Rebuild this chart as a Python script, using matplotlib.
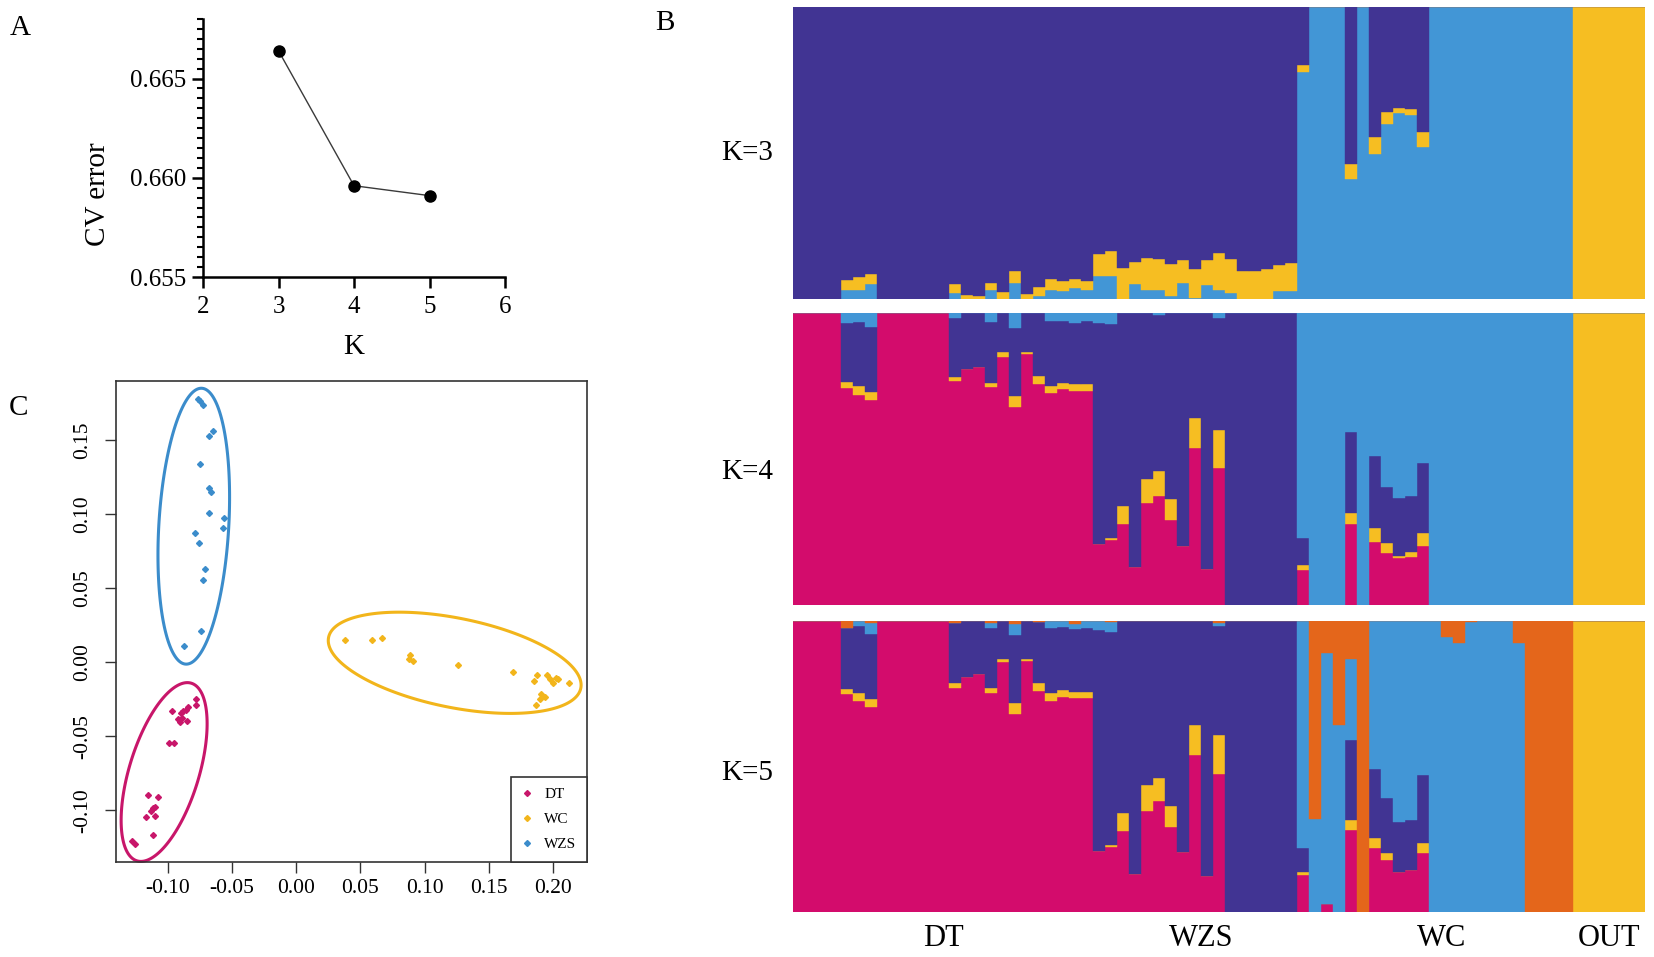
import numpy as np
import matplotlib
matplotlib.use("Agg")
import matplotlib.pyplot as plt
from matplotlib.ticker import MultipleLocator
from matplotlib.lines import Line2D

plt.rcParams['font.family'] = ['Liberation Serif', 'DejaVu Serif']

# ---------------- data ----------------
# A: cross-validation error
k_values = [3, 4, 5]
cv_error = [0.6664, 0.6596, 0.6591]

# C: PCA coordinates
dt_pc1 = [-0.0784, -0.0778, -0.0844, -0.0859, -0.0880, -0.0898, -0.0889, -0.0853,
          -0.0919, -0.0910, -0.0970, -0.0994, -0.0955, -0.1153, -0.1081, -0.1114,
          -0.1100, -0.1129, -0.1100, -0.1174, -0.1114, -0.1278, -0.1257]
dt_pc2 = [-0.0252, -0.0286, -0.0306, -0.0325, -0.0332, -0.0345, -0.0377, -0.0395,
          -0.0384, -0.0403, -0.0332, -0.0545, -0.0545, -0.0896, -0.0909, -0.0987,
          -0.0979, -0.1008, -0.1039, -0.1047, -0.1169, -0.1208, -0.1229]
wc_pc1 = [0.0383, 0.0587, 0.0665, 0.0886, 0.0880, 0.0907, 0.1260, 0.1686, 0.1850, 0.1874,
          0.1865, 0.1895, 0.1910, 0.1934, 0.1955, 0.1976, 0.2000, 0.2024, 0.2036, 0.2126]
wc_pc2 = [0.0148, 0.0148, 0.0166, 0.0052, 0.0021, 0.0008, -0.0021, -0.0068, -0.0130, -0.0086,
          -0.0286, -0.0247, -0.0216, -0.0234, -0.0086, -0.0112, -0.0143, -0.0104, -0.0112, -0.0143]
wzs_pc1 = [-0.0766, -0.0754, -0.0730, -0.0647, -0.0680, -0.0754, -0.0680, -0.0665, -0.0680,
           -0.0560, -0.0575, -0.0790, -0.0760, -0.0710, -0.0725, -0.0746, -0.0874]
wzs_pc2 = [0.1780, 0.1766, 0.1735, 0.1560, 0.1530, 0.1340, 0.1177, 0.1150, 0.1008,
           0.0974, 0.0910, 0.0870, 0.0805, 0.0629, 0.0553, 0.0208, 0.0109]

# ellipse outlines (DT, WC, WZS): centre, half extents, correlation
ell_cx = [-0.1030, 0.1234, -0.0799]
ell_cy = [-0.0742, -0.0004, 0.0919]
ell_rx = [0.0335, 0.0985, 0.0279]
ell_ry = [0.0604, 0.0342, 0.0932]
ell_rho = [0.54, -0.44, 0.21]

# B: admixture proportions, 71 individuals
groups = ['DT', 'WZS', 'WC', 'OUT']
group_sizes = [25, 18, 22, 6]

# K=3, stacked bottom->top: blue, yellow, purple (purple = remainder)
k3_blue = [0, 0, 0, 0, .031, .031, .05, 0, 0, 0, 0, 0, 0,
           .022, 0, 0, .031, 0, .056, 0, .01, .031, .027, .037, .031,
           .079, .079, 0, .05, .031, .031, .009, .055, .004, .049, .032, .02, 0, 0, 0, .026, .026,
           .779, 1, 1, 1, .412, 1, .498, .601, .636, .632, .521,
           1, 1, 1, 1, 1, 1, 1, 1, 1, 1, 1, 1,
           0, 0, 0, 0, 0, 0]
k3_yellow = [0, 0, 0, 0, .034, .043, .035, 0, 0, 0, 0, 0, 0,
             .029, .015, .009, .025, .023, .041, .017, .032, .039, .033, .033, .029,
             .074, .086, .107, .078, .108, .107, .112, .079, .1, .085, .124, .118, .097, .097, .102, .092, .097,
             .023, 0, 0, 0, .052, 0, .058, .04, .02, .021, .052,
             0, 0, 0, 0, 0, 0, 0, 0, 0, 0, 0, 0,
             1, 1, 1, 1, 1, 1]

# K=4, stacked bottom->top: pink, yellow, purple, blue (blue = remainder)
k4_pink = [1, 1, 1, 1, .745, .72, .703, 1, 1, 1, 1, 1, 1,
           .768, .808, .817, .749, .851, .68, .861, .758, .726, .739, .735, .735,
           .209, .223, .277, .131, .349, .374, .291, .203, .539, .122, .469, 0, 0, 0, 0, 0, 0,
           .12, 0, 0, 0, .278, 0, .217, .179, .162, .166, .202,
           0, 0, 0, 0, 0, 0, 0, 0, 0, 0, 0, 0,
           0, 0, 0, 0, 0, 0]
k4_yellow = [0, 0, 0, 0, .021, .031, .028, 0, 0, 0, 0, 0, 0,
             .013, 0, 0, .013, .018, .037, .008, .027, .026, .023, .022, .022,
             0, .006, .062, 0, .082, .085, .071, 0, .103, 0, .131, 0, 0, 0, 0, 0, 0,
             .017, 0, 0, 0, .039, 0, .048, .035, .007, .015, .044,
             0, 0, 0, 0, 0, 0, 0, 0, 0, 0, 0, 0,
             1, 1, 1, 1, 1, 1]
k4_purple = [0, 0, 0, 0, .202, .22, .223, 0, 0, 0, 0, 0, 0,
             .202, .192, .183, .209, .131, .232, .131, .215, .222, .212, .211, .217,
             .757, .734, .661, .869, .569, .535, .638, .797, .358, .878, .383, 1, 1, 1, 1, 1, 1,
             .092, 0, 0, 0, .277, 0, .246, .189, .197, .194, .242,
             0, 0, 0, 0, 0, 0, 0, 0, 0, 0, 0, 0,
             0, 0, 0, 0, 0, 0]

# K=5, stacked bottom->top: pink, yellow, purple, blue, orange (orange = remainder)
k5_pink = [1, 1, 1, 1, .749, .726, .704, 1, 1, 1, 1, 1, 1,
           .769, .808, .816, .751, .857, .681, .862, .759, .726, .74, .734, .734,
           .21, .224, .278, .13, .349, .381, .293, .206, .54, .124, .475, 0, 0, 0, 0, 0, 0,
           .128, 0, .028, 0, .283, 0, .222, .179, .139, .147, .202,
           0, 0, 0, 0, 0, 0, 0, 0, 0, 0, 0, 0,
           0, 0, 0, 0, 0, 0]
k5_yellow = [0, 0, 0, 0, .016, .025, .028, 0, 0, 0, 0, 0, 0,
             .017, 0, 0, .018, .012, .036, .007, .027, .025, .023, .023, .023,
             0, .006, .063, 0, .089, .08, .071, 0, .103, 0, .132, 0, 0, 0, 0, 0, 0,
             .011, 0, 0, 0, .033, 0, .032, .025, 0, 0, .035,
             0, 0, 0, 0, 0, 0, 0, 0, 0, 0, 0, 0,
             1, 1, 1, 1, 1, 1]
k5_purple = [0, 0, 0, 0, .209, .231, .222, 0, 0, 0, 0, 0, 0,
             .205, .192, .184, .207, .131, .234, .131, .211, .223, .216, .213, .217,
             .758, .732, .659, .87, .562, .539, .636, .794, .357, .876, .376, 1, 1, 1, 1, 1, 1,
             .082, 0, 0, 0, .276, 0, .239, .188, .172, .17, .234,
             0, 0, 0, 0, 0, 0, 0, 0, 0, 0, 0, 0,
             0, 0, 0, 0, 0, 0]
k5_blue = [0, 0, 0, 0, 0, .018, .037, 0, 0, 0, 0, 0, 0,
           0, 0, 0, .015, 0, .036, 0, 0, .026, .021, .017, .026,
           .032, .035, 0, 0, 0, 0, 0, 0, 0, 0, .008, 0, 0, 0, 0, 0, 0,
           .779, .32, .86, .643, .277, 0, .507, .608, .689, .683, .529,
           1, .945, .922, .995, 1, 1, 1, .922, 0, 0, 0, 0,
           0, 0, 0, 0, 0, 0]

# colours
PURPLE = '#413493'
BLUE = '#4296D6'
YELLOW = '#F6BE22'
PINK = '#D30C6C'
ORANGE = '#E4661B'

fig = plt.figure(figsize=(16.54, 9.57), dpi=100)
W, H = 1654.0, 957.0

def px_axes(left, top, right, bottom):
    return fig.add_axes([left / W, 1 - bottom / H, (right - left) / W, (bottom - top) / H])

# -----------------------------
# PANEL A: CV error
# -----------------------------
ax_a = px_axes(203, 19, 505, 277)
ax_a.plot(k_values, cv_error, color='#3a3a3a', lw=1.0, marker='o', ms=8,
          mfc='black', mec='black', clip_on=False, zorder=3)
ax_a.set_xlim(2, 6)
ax_a.set_ylim(0.655, 0.668)
ax_a.set_xticks([2, 3, 4, 5, 6])
ax_a.set_yticks([0.655, 0.660, 0.665])
ax_a.set_yticklabels(['0.655', '0.660', '0.665'])
ax_a.yaxis.set_minor_locator(MultipleLocator(0.0005))
for s in ['top', 'right']:
    ax_a.spines[s].set_visible(False)
for s in ['left', 'bottom']:
    ax_a.spines[s].set_linewidth(1.8)
ax_a.tick_params(which='major', direction='out', length=8, width=1.8, labelsize=18, pad=4)
ax_a.tick_params(which='minor', direction='out', length=4.5, width=1.5)
ax_a.tick_params(axis='x', pad=6)
ax_a.set_ylabel('CV error', fontsize=21)
ax_a.set_xlabel('K', fontsize=21)
ax_a.yaxis.set_label_coords(-0.305, 0.32)
ax_a.xaxis.set_label_coords(0.5, -0.22)

# -----------------------------
# PANEL C: PCA
# -----------------------------
ax_c = px_axes(116, 381, 587, 862)
pca_sets = [(dt_pc1, dt_pc2, '#C8166A', 'DT'),
            (wc_pc1, wc_pc2, '#F2B51B', 'WC'),
            (wzs_pc1, wzs_pc2, '#3B8CCB', 'WZS')]
t = np.linspace(0, 2 * np.pi, 300)
handles = []
for j, (px_, py_, col, name) in enumerate(pca_sets):
    ax_c.plot(px_, py_, linestyle='none', marker='D', ms=3, color=col)
    phi = np.arccos(ell_rho[j])
    ex = ell_cx[j] + ell_rx[j] * np.cos(t)
    ey = ell_cy[j] + ell_ry[j] * np.cos(t - phi)
    ax_c.fill(ex, ey, fill=False, edgecolor=col, lw=2.2, clip_on=False)
    handles.append(Line2D([], [], linestyle='none', marker='D', ms=3, color=col, label=name))
ax_c.set_xlim(-0.1405, 0.2265)
ax_c.set_ylim(-0.135, 0.190)
ax_c.set_xticks([-0.10, -0.05, 0.00, 0.05, 0.10, 0.15, 0.20])
ax_c.set_xticklabels(['-0.10', '-0.05', '0.00', '0.05', '0.10', '0.15', '0.20'])
ax_c.set_yticks([-0.10, -0.05, 0.00, 0.05, 0.10, 0.15])
ax_c.set_yticklabels(['-0.10', '-0.05', '0.00', '0.05', '0.10', '0.15'])
for s in ax_c.spines.values():
    s.set_linewidth(1.2)
    s.set_color('#333333')
ax_c.tick_params(direction='out', length=8, width=1.0, color='#333333', labelsize=15.5)
ax_c.tick_params(axis='x', pad=4)
ax_c.tick_params(axis='y', pad=9)
for lbl in ax_c.get_yticklabels():
    lbl.set_rotation(90)
    lbl.set_va('center')
leg = ax_c.legend(handles=handles, loc='lower right', borderaxespad=0, fancybox=False,
                  edgecolor='#333333', framealpha=1, fontsize=11, handlelength=0.8,
                  handletextpad=0.7, borderpad=0.7, labelspacing=0.75)
leg.get_frame().set_linewidth(1.2)

# -----------------------------
# PANEL B: admixture bars
# -----------------------------
n_ind = len(k3_blue)
x = np.arange(n_ind)

def stack(ax, comps, cols):
    bottom = np.zeros(n_ind)
    for vals, col in zip(comps, cols):
        vals = np.clip(np.asarray(vals, dtype=float), 0, None)
        ax.bar(x, vals, bottom=bottom, width=1.0, align='edge', color=col,
               edgecolor=col, linewidth=0.3)
        bottom = bottom + vals
    rest = np.clip(1 - bottom, 0, None)
    return rest

panel_tops = [7.3, 313.3, 620.7]
panel_h = 291.7
bx0, bx1 = 793.3, 1645.3
k_axes = []
for top in panel_tops:
    k_axes.append(px_axes(bx0, top, bx1, top + panel_h))

rest3 = stack(k_axes[0], [k3_blue, k3_yellow], [BLUE, YELLOW])
k_axes[0].bar(x, rest3, bottom=1 - rest3, width=1.0, align='edge', color=PURPLE,
              edgecolor=PURPLE, linewidth=0.3)
rest4 = stack(k_axes[1], [k4_pink, k4_yellow, k4_purple], [PINK, YELLOW, PURPLE])
k_axes[1].bar(x, rest4, bottom=1 - rest4, width=1.0, align='edge', color=BLUE,
              edgecolor=BLUE, linewidth=0.3)
rest5 = stack(k_axes[2], [k5_pink, k5_yellow, k5_purple, k5_blue], [PINK, YELLOW, PURPLE, BLUE])
k_axes[2].bar(x, rest5, bottom=1 - rest5, width=1.0, align='edge', color=ORANGE,
              edgecolor=ORANGE, linewidth=0.3)

k_label_y = [0.5, 0.456, 0.479]
for ax, kk, ly in zip(k_axes, [3, 4, 5], k_label_y):
    ax.set_xlim(0, n_ind)
    ax.set_ylim(0, 1)
    ax.axis('off')
    ax.text(-0.024, ly, 'K=%d' % kk, transform=ax.transAxes, ha='right', va='center',
            fontsize=21)

edges = np.concatenate([[0], np.cumsum(group_sizes)])
for g, a, b in zip(groups, edges[:-1], edges[1:]):
    k_axes[2].text((a + b) / 2.0, -0.09, g, ha='center', va='center', fontsize=22,
                   transform=k_axes[2].get_xaxis_transform())

# panel letters
fig.text(20 / W, 1 - 28 / H, 'A', fontsize=21, ha='center', va='center')
fig.text(665 / W, 1 - 23 / H, 'B', fontsize=21, ha='center', va='center')
fig.text(18 / W, 1 - 408 / H, 'C', fontsize=21, ha='center', va='center')

fig.savefig('out.png', dpi=100)
